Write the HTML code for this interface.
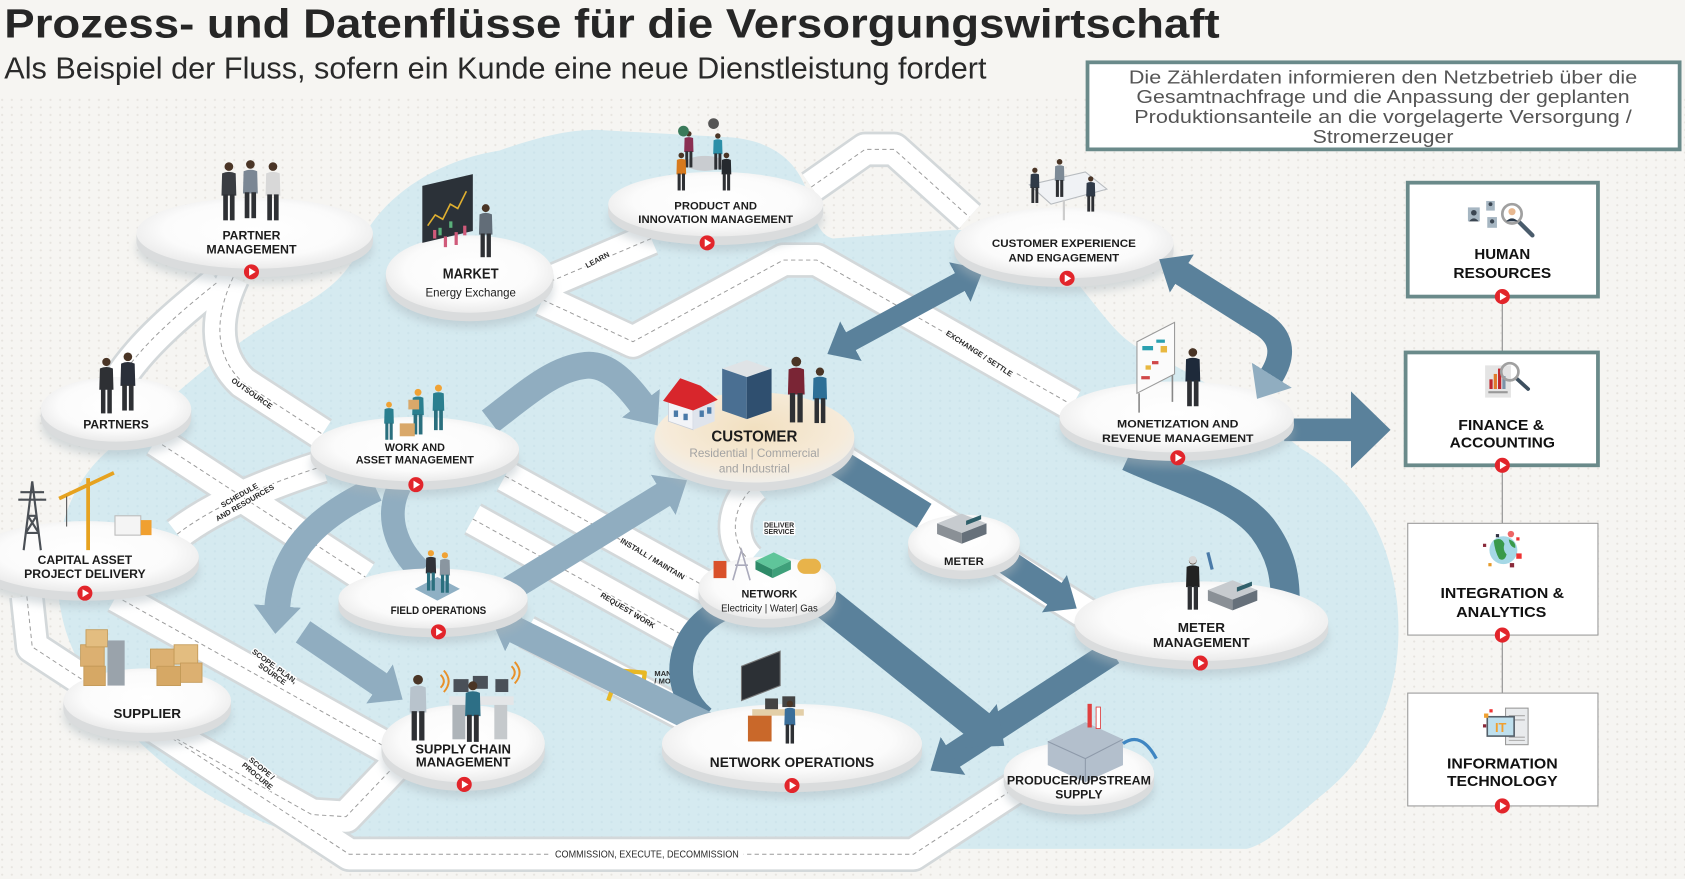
<!DOCTYPE html>
<html><head><meta charset="utf-8"><style>
html,body{margin:0;padding:0;background:#f6f5f2;}
svg{display:block;}
text{font-family:"Liberation Sans",Arial,sans-serif;}
.n{font-weight:700;fill:#1c1c1c;text-anchor:middle;}
.rl{font-weight:700;fill:#2a2a2a;font-size:7px;text-anchor:middle;paint-order:stroke;stroke:#fff;stroke-width:2.5px;}
.pb{font-weight:700;fill:#111;text-anchor:middle;font-size:14px;}
</style></head><body>
<svg xmlns="http://www.w3.org/2000/svg" width="1685" height="879" viewBox="0 0 1568 818" preserveAspectRatio="none">
<defs>
 <pattern id="dots" width="9" height="7" patternUnits="userSpaceOnUse"><circle cx="2" cy="2" r="1" fill="#e6e3de"/></pattern>
 <pattern id="dotsB" width="9" height="7" patternUnits="userSpaceOnUse"><circle cx="2" cy="2" r="1.1" fill="#c4dde6"/></pattern>
 <radialGradient id="gTop" cx="50%" cy="45%" r="55%"><stop offset="0" stop-color="#ffffff"/><stop offset=".7" stop-color="#fbfbfb"/><stop offset="1" stop-color="#ebebeb"/></radialGradient>
 <radialGradient id="gCust" cx="50%" cy="40%" r="60%"><stop offset="0" stop-color="#f2e0c0"/><stop offset=".75" stop-color="#f6ebda"/><stop offset="1" stop-color="#f0eeea"/></radialGradient>
 <filter id="blur" x="-30%" y="-60%" width="160%" height="220%"><feGaussianBlur stdDeviation="4"/></filter>
 <marker id="hD" viewBox="0 -22 26 44" refX="1" refY="0" markerWidth="26" markerHeight="44" markerUnits="userSpaceOnUse" orient="auto-start-reverse"><path d="M0,-21L25,0L0,21Z" fill="#5a819b"/></marker>
 <marker id="hL" viewBox="0 -23 27 46" refX="1" refY="0" markerWidth="27" markerHeight="46" markerUnits="userSpaceOnUse" orient="auto-start-reverse"><path d="M0,-22L26,0L0,22Z" fill="#90adc0"/></marker>
 <marker id="hDB" viewBox="0 -37 38 74" refX="1" refY="0" markerWidth="38" markerHeight="74" markerUnits="userSpaceOnUse" orient="auto"><path d="M0,-36L37,0L0,36Z" fill="#5a819b"/></marker>
 <marker id="hDP" viewBox="0 -27 31 54" refX="1" refY="0" markerWidth="31" markerHeight="54" markerUnits="userSpaceOnUse" orient="auto"><path d="M0,-26L30,0L0,26Z" fill="#5a819b"/></marker>
 <g id="pp"><circle cx="0" cy="3.5" r="3.5" fill="#4a3526"/><path d="M-5.5,9 Q0,6.5 5.5,9 L6,27 L-6,27Z"/><rect x="-4.6" y="26" width="3.8" height="21" fill="#2e3034"/><rect x="0.8" y="26" width="3.8" height="21" fill="#2e3034"/></g>
 <g id="pw"><circle cx="0" cy="3.5" r="3.6" fill="#f0a234"/><path d="M-5.5,9 Q0,6.5 5.5,9 L6,27 L-6,27Z"/><rect x="-4.6" y="26" width="3.8" height="21" fill="#2a6f7e"/><rect x="0.8" y="26" width="3.8" height="21" fill="#2a6f7e"/></g>
 <g id="play"><circle r="7" fill="#e2252b"/><path d="M-2.2,-3.7 L3.9,0 L-2.2,3.7Z" fill="#fff"/></g>
 <g id="dev"><path d="M0,9 L23,0 L46,9 L23,18Z" fill="#c7cbcf"/><path d="M0,9 L23,18 L23,28 L0,19Z" fill="#8a9096"/><path d="M23,18 L46,9 L46,19 L23,28Z" fill="#66707a"/><rect x="27" y="17" width="14" height="4" fill="#2f5f6a" transform="skewY(-21)"/></g>
 <path id="r1" d="M110,355 C130,322 168,290 203,262"/>
 <path id="r2" d="M217,258 C202,290 196,328 226,356 L300,404"/>
 <path id="r3" d="M512,262 L606,222"/>
 <path id="r4" d="M755,174 L805,139 L832,139 L902,202"/>
 <path id="r5" d="M505,279 L589,318 L729,242 L760,242 L998,377"/>
 <path id="r6" d="M165,497 C200,470 250,450 300,434"/>
 <path id="r7" d="M145,410 L340,537"/>
 <path id="r8" d="M108,555 L362,697"/>
 <path id="r9" d="M158,684 L290,758 L322,760 L366,714"/>
 <path id="r10" d="M25,555 L30,602 L325,795 L850,795 L948,731"/>
 <path id="r11" d="M470,443 L662,549"/>
 <path id="r12" d="M440,483 L646,597"/>
 <path id="r13" d="M778,425 L1012,572"/>
 <path id="r14" d="M703,452 C680,470 678,505 698,522"/>
 <path id="r15" d="M490,588 L650,672"/>
 <clipPath id="cm"><rect x="600" y="612" width="33" height="28"/></clipPath>
</defs>

<!-- background -->
<rect x="0" y="0" width="1568" height="818" fill="#f6f5f2"/>
<rect x="0" y="90" width="1568" height="728" fill="url(#dots)"/>

<!-- cloud -->
<path d="M57,570 C45,510 60,445 114,409 C150,380 210,320 270,290 C300,275 318,260 330,240 C345,190 400,150 465,140 C500,128 530,120 558,121 L682,128 C720,132 740,150 750,175 C758,200 760,218 775,222 L884,214 C930,212 975,235 1002,263 C1025,290 1040,315 1064,326 C1120,352 1170,385 1210,417 C1250,440 1290,480 1300,560 C1308,640 1280,700 1230,740 C1200,765 1180,785 1160,790 L340,790 C260,780 190,745 140,700 C100,665 65,615 57,570 Z" fill="#d5eaf0"/>
<path d="M57,570 C45,510 60,445 114,409 C150,380 210,320 270,290 C300,275 318,260 330,240 C345,190 400,150 465,140 C500,128 530,120 558,121 L682,128 C720,132 740,150 750,175 C758,200 760,218 775,222 L884,214 C930,212 975,235 1002,263 C1025,290 1040,315 1064,326 C1120,352 1170,385 1210,417 C1250,440 1290,480 1300,560 C1308,640 1280,700 1230,740 C1200,765 1180,785 1160,790 L340,790 C260,780 190,745 140,700 C100,665 65,615 57,570 Z" fill="url(#dotsB)" opacity=".5"/>

<!-- roads -->
<g fill="none" stroke-linejoin="round">
 <g stroke="#d3d8da" stroke-width="33">
  <use href="#r1"/><use href="#r2"/><use href="#r3"/><use href="#r4"/><use href="#r5"/><use href="#r6"/><use href="#r7"/><use href="#r8"/><use href="#r9"/><use href="#r10"/><use href="#r11"/><use href="#r12"/><use href="#r13"/><use href="#r14"/><use href="#r15"/>
 </g>
 <g stroke="#ffffff" stroke-width="28">
  <use href="#r1"/><use href="#r2"/><use href="#r3"/><use href="#r4"/><use href="#r5"/><use href="#r6"/><use href="#r7"/><use href="#r8"/><use href="#r9"/><use href="#r10"/><use href="#r11"/><use href="#r12"/><use href="#r13"/><use href="#r14"/><use href="#r15"/>
 </g>
 <g stroke="#9a9a9a" stroke-width="0.9" stroke-dasharray="4 3">
  <use href="#r1"/><use href="#r2"/><use href="#r3"/><use href="#r4"/><use href="#r5"/><use href="#r6"/><use href="#r7"/><use href="#r8"/><use href="#r9"/><use href="#r10"/><use href="#r11"/><use href="#r12"/><use href="#r14"/>
 </g>
</g>

<!-- road labels -->
<text class="rl" transform="translate(557,244) rotate(-28)">LEARN</text>
<text class="rl" transform="translate(233,368) rotate(35)">OUTSOURCE</text>
<text class="rl" transform="translate(224,463) rotate(-30)">SCHEDULE</text>
<text class="rl" transform="translate(229,470) rotate(-30)">AND RESOURCES</text>
<text class="rl" transform="translate(910,331) rotate(33)">EXCHANGE / SETTLE</text>
<text class="rl" transform="translate(606,522) rotate(31)">INSTALL / MAINTAIN</text>
<text class="rl" transform="translate(583,570) rotate(31)">REQUEST WORK</text>
<text class="rl" x="725" y="491" style="font-size:6.5px">DELIVER</text>
<text class="rl" x="725" y="497" style="font-size:6.5px">SERVICE</text>
<text class="rl" transform="translate(254,622) rotate(36)">SCOPE, PLAN,</text>
<text class="rl" transform="translate(252,629) rotate(36)">SOURCE</text>
<text class="rl" transform="translate(242,717) rotate(40)">SCOPE /</text>
<text class="rl" transform="translate(238,724) rotate(40)">PROCURE</text>
<g clip-path="url(#cm)"><text x="609" y="629" style="font-size:7px;font-weight:700;fill:#2a2a2a">MANAGE</text><text x="609" y="636" style="font-size:7px;font-weight:700;fill:#2a2a2a">/ MONITOR</text></g>
<rect x="512" y="789" width="180" height="12" fill="#fff"/>
<text x="602" y="798" text-anchor="middle" font-size="9" fill="#2a2a2a" textLength="171" lengthAdjust="spacingAndGlyphs">COMMISSION, EXECUTE, DECOMMISSION</text>

<!-- yellow robotic arm -->
<path d="M566,652 L576,624 L600,626 L597,650" fill="none" stroke="#e8b824" stroke-width="4" stroke-linejoin="round"/>

<!-- arrows under nodes -->
<g fill="none" stroke-linecap="butt">
 <path d="M791,318 L894,262" stroke="#5a819b" stroke-width="19" marker-start="url(#hD)" marker-end="url(#hD)"/>
 <path d="M1195,400 L1258,400" stroke="#5a819b" stroke-width="21" marker-end="url(#hDB)"/>
 <path d="M1050,425 C1100,448 1150,460 1175,492 C1192,515 1196,535 1196,560" stroke="#5a819b" stroke-width="27"/>
 <path d="M768,423 L860,480" stroke="#5a819b" stroke-width="26"/>
 <path d="M925,515 L982,553" stroke="#5a819b" stroke-width="24" marker-end="url(#hD)"/>
 <path d="M1035,607 L886,704" stroke="#5a819b" stroke-width="24" marker-end="url(#hD)"/>
 <path d="M770,562 L912,676" stroke="#5a819b" stroke-width="30" marker-end="url(#hDP)"/>
 <path d="M670,568 C628,590 622,640 655,668" stroke="#5a819b" stroke-width="22"/>
 <path d="M456,392 C490,366 515,343 545,340 C565,338 582,356 597,376" stroke="#90adc0" stroke-width="25" marker-end="url(#hL)"/>
 <path d="M470,551 L618,460" stroke="#90adc0" stroke-width="24" marker-end="url(#hL)"/>
 <path d="M372,452 C358,480 368,510 392,532" stroke="#90adc0" stroke-width="22"/>
 <path d="M350,455 C300,478 262,510 258,565" stroke="#90adc0" stroke-width="24" marker-end="url(#hL)"/>
 <path d="M282,588 L354,637" stroke="#90adc0" stroke-width="24" marker-end="url(#hL)"/>
 <path d="M662,677 L479,586" stroke="#90adc0" stroke-width="25" marker-end="url(#hL)"/>
</g>

<!-- nodes -->
<g>
 <ellipse cx="237" cy="231" rx="110" ry="33" fill="#a9b5bb" opacity=".45" filter="url(#blur)"/><ellipse cx="237" cy="225" rx="110" ry="33" fill="#dadcdd"/><rect x="127" y="217" width="220" height="8" fill="#dadcdd"/><ellipse cx="237" cy="217" rx="110" ry="33" fill="url(#gTop)"/>
 <ellipse cx="437" cy="269" rx="78" ry="36" fill="#a9b5bb" opacity=".45" filter="url(#blur)"/><ellipse cx="437" cy="263" rx="78" ry="36" fill="#dadcdd"/><rect x="359" y="255" width="156" height="8" fill="#dadcdd"/><ellipse cx="437" cy="255" rx="78" ry="36" fill="url(#gTop)"/>
 <ellipse cx="666" cy="204" rx="100" ry="30" fill="#a9b5bb" opacity=".45" filter="url(#blur)"/><ellipse cx="666" cy="198" rx="100" ry="30" fill="#dadcdd"/><rect x="566" y="190" width="200" height="8" fill="#dadcdd"/><ellipse cx="666" cy="190" rx="100" ry="30" fill="url(#gTop)"/>
 <ellipse cx="990" cy="240" rx="102" ry="33" fill="#a9b5bb" opacity=".45" filter="url(#blur)"/><ellipse cx="990" cy="234" rx="102" ry="33" fill="#dadcdd"/><rect x="888" y="226" width="204" height="8" fill="#dadcdd"/><ellipse cx="990" cy="226" rx="102" ry="33" fill="url(#gTop)"/>
 <ellipse cx="108" cy="395" rx="70" ry="30" fill="#a9b5bb" opacity=".45" filter="url(#blur)"/><ellipse cx="108" cy="389" rx="70" ry="30" fill="#dadcdd"/><rect x="38" y="381" width="140" height="8" fill="#dadcdd"/><ellipse cx="108" cy="381" rx="70" ry="30" fill="url(#gTop)"/>
 <ellipse cx="386" cy="432" rx="97" ry="30" fill="#a9b5bb" opacity=".45" filter="url(#blur)"/><ellipse cx="386" cy="426" rx="97" ry="30" fill="#dadcdd"/><rect x="289" y="418" width="194" height="8" fill="#dadcdd"/><ellipse cx="386" cy="418" rx="97" ry="30" fill="url(#gTop)"/>
 <ellipse cx="702" cy="421" rx="93" ry="42" fill="#a9b5bb" opacity=".45" filter="url(#blur)"/><ellipse cx="702" cy="415" rx="93" ry="42" fill="#dadcdd"/><rect x="609" y="407" width="186" height="8" fill="#dadcdd"/><ellipse cx="702" cy="407" rx="93" ry="42" fill="url(#gCust)"/>
 <ellipse cx="1095" cy="402" rx="109" ry="33" fill="#a9b5bb" opacity=".45" filter="url(#blur)"/><ellipse cx="1095" cy="396" rx="109" ry="33" fill="#dadcdd"/><rect x="986" y="388" width="218" height="8" fill="#dadcdd"/><ellipse cx="1095" cy="388" rx="109" ry="33" fill="url(#gTop)"/>
 <ellipse cx="80" cy="532" rx="105" ry="33" fill="#a9b5bb" opacity=".45" filter="url(#blur)"/><ellipse cx="80" cy="526" rx="105" ry="33" fill="#dadcdd"/><rect x="-25" y="518" width="210" height="8" fill="#dadcdd"/><ellipse cx="80" cy="518" rx="105" ry="33" fill="url(#gTop)"/>
 <ellipse cx="897" cy="519" rx="52" ry="26" fill="#a9b5bb" opacity=".45" filter="url(#blur)"/><ellipse cx="897" cy="513" rx="52" ry="26" fill="#dadcdd"/><rect x="845" y="505" width="104" height="8" fill="#dadcdd"/><ellipse cx="897" cy="505" rx="52" ry="26" fill="url(#gTop)"/>
 <ellipse cx="403" cy="571" rx="88" ry="28" fill="#a9b5bb" opacity=".45" filter="url(#blur)"/><ellipse cx="403" cy="565" rx="88" ry="28" fill="#dadcdd"/><rect x="315" y="557" width="176" height="8" fill="#dadcdd"/><ellipse cx="403" cy="557" rx="88" ry="28" fill="url(#gTop)"/>
 <ellipse cx="714" cy="561" rx="64" ry="29" fill="#a9b5bb" opacity=".45" filter="url(#blur)"/><ellipse cx="714" cy="555" rx="64" ry="29" fill="#dadcdd"/><rect x="650" y="547" width="128" height="8" fill="#dadcdd"/><ellipse cx="714" cy="547" rx="64" ry="29" fill="url(#gTop)"/>
 <ellipse cx="1118" cy="592" rx="118" ry="37" fill="#a9b5bb" opacity=".45" filter="url(#blur)"/><ellipse cx="1118" cy="586" rx="118" ry="37" fill="#dadcdd"/><rect x="1000" y="578" width="236" height="8" fill="#dadcdd"/><ellipse cx="1118" cy="578" rx="118" ry="37" fill="url(#gTop)"/>
 <ellipse cx="137" cy="666" rx="78" ry="30" fill="#a9b5bb" opacity=".45" filter="url(#blur)"/><ellipse cx="137" cy="660" rx="78" ry="30" fill="#dadcdd"/><rect x="59" y="652" width="156" height="8" fill="#dadcdd"/><ellipse cx="137" cy="652" rx="78" ry="30" fill="url(#gTop)"/>
 <ellipse cx="431" cy="706" rx="76" ry="36" fill="#a9b5bb" opacity=".45" filter="url(#blur)"/><ellipse cx="431" cy="700" rx="76" ry="36" fill="#dadcdd"/><rect x="355" y="692" width="152" height="8" fill="#dadcdd"/><ellipse cx="431" cy="692" rx="76" ry="36" fill="url(#gTop)"/>
 <ellipse cx="737" cy="706" rx="121" ry="37" fill="#a9b5bb" opacity=".45" filter="url(#blur)"/><ellipse cx="737" cy="700" rx="121" ry="37" fill="#dadcdd"/><rect x="616" y="692" width="242" height="8" fill="#dadcdd"/><ellipse cx="737" cy="692" rx="121" ry="37" fill="url(#gTop)"/>
 <ellipse cx="1004" cy="734" rx="70" ry="30" fill="#a9b5bb" opacity=".45" filter="url(#blur)"/><ellipse cx="1004" cy="728" rx="70" ry="30" fill="#dadcdd"/><rect x="934" y="720" width="140" height="8" fill="#dadcdd"/><ellipse cx="1004" cy="720" rx="70" ry="30" fill="url(#gTop)"/>
</g>

<!-- arrow drawn over nodes -->
<path d="M1099,254 L1172,300 Q1203,318 1183,350" fill="none" stroke="#5a819b" stroke-width="23" marker-start="url(#hD)" marker-end="url(#hL)"/>

<!-- figures / icons -->
<use href="#pp" transform="translate(213,151) scale(1.15)" fill="#3a3d42"/>
<use href="#pp" transform="translate(233,149) scale(1.15)" fill="#7b8794"/>
<use href="#pp" transform="translate(254,151) scale(1.15)" fill="#d8d8d8"/>
<path d="M393,173 L440,162 L440,215 L393,226Z" fill="#2b3138"/>
<path d="M398,210 L405,200 L412,204 L419,190 L426,194 L434,178" fill="none" stroke="#e0b030" stroke-width="1.5"/>
<g fill="#d05a7a"><rect x="403" y="214" width="3" height="8"/><rect x="413" y="220" width="3" height="10"/><rect x="423" y="216" width="3" height="12"/><rect x="431" y="210" width="3" height="9"/></g>
<g fill="#5ab07a"><rect x="408" y="212" width="3" height="7"/><rect x="418" y="206" width="3" height="6"/></g>
<use href="#pp" transform="translate(452,190) scale(1.05)" fill="#626d78"/>
<ellipse cx="656" cy="152" rx="18" ry="7" fill="#c9ccd0"/>
<use href="#pp" transform="translate(641,122) scale(.72)" fill="#8a2f52"/>
<use href="#pp" transform="translate(668,124) scale(.72)" fill="#2c8fa8"/>
<use href="#pp" transform="translate(634,142) scale(.75)" fill="#d77a1e"/>
<use href="#pp" transform="translate(676,142) scale(.75)" fill="#25292e"/>
<circle cx="636" cy="122" r="5" fill="#3a7a5a"/><circle cx="664" cy="115" r="5" fill="#555"/>
<path d="M958,172 L1010,160 L1030,176 L978,190Z" fill="#f0f2f5" stroke="#b8bcc0" stroke-width="1"/>
<path d="M990,186 L990,205" stroke="#ccc" stroke-width="2"/>
<use href="#pp" transform="translate(963,156) scale(.7)" fill="#2f3a48"/>
<use href="#pp" transform="translate(986,148) scale(.75)" fill="#7d8a96"/>
<use href="#pp" transform="translate(1015,164) scale(.7)" fill="#2f3a48"/>
<path d="M1058,318 L1093,300 L1093,348 L1058,366Z" fill="#fbfbfb" stroke="#9a9a9a" stroke-width="1"/>
<g fill="#2aa0b0"><rect x="1063" y="322" width="10" height="4"/><rect x="1076" y="316" width="8" height="3"/></g>
<g fill="#e8b840"><rect x="1080" y="322" width="6" height="6"/><rect x="1066" y="340" width="5" height="4"/></g>
<g fill="#d04848"><rect x="1072" y="336" width="6" height="3"/><rect x="1062" y="350" width="8" height="3"/></g>
<path d="M1060,366 L1060,384 M1091,349 L1091,374" stroke="#888" stroke-width="1.5"/>
<use href="#pp" transform="translate(1110,324) scale(1.15)" fill="#1e2a3a"/>
<use href="#pw" transform="translate(362,374) scale(.75)" fill="#2a7f8f"/>
<use href="#pw" transform="translate(389,362) scale(.9)" fill="#2a7f8f"/>
<use href="#pw" transform="translate(408,358) scale(.9)" fill="#2a7f8f"/>
<rect x="372" y="394" width="14" height="12" fill="#d9a86a"/><rect x="380" y="372" width="10" height="9" fill="#d9a86a"/>
<path d="M622,372 L645,380 L645,400 L622,392Z" fill="#f2f4f8" stroke="#c8ced8" stroke-width=".8"/>
<path d="M645,380 L665,372 L665,392 L645,400Z" fill="#dfe4ec"/>
<path d="M617,373 L633,352 L652,359 L668,372 L645,382Z" fill="#d8262c"/>
<g fill="#4a7aa8"><rect x="627" y="382" width="4" height="6"/><rect x="636" y="385" width="4" height="6"/><rect x="651" y="382" width="4" height="6"/><rect x="658" y="379" width="4" height="6"/></g>
<path d="M672,343 L695,335 L718,343 L695,351Z" fill="#dfe3e6"/>
<path d="M672,343 L695,351 L695,390 L672,382Z" fill="#4a6f92"/>
<path d="M695,351 L718,343 L718,382 L695,390Z" fill="#2f4f6f"/>
<use href="#pp" transform="translate(741,332) scale(1.3)" fill="#7a2535"/>
<use href="#pp" transform="translate(763,342) scale(1.1)" fill="#2d6f96"/>
<use href="#pp" transform="translate(99,333) scale(1.1)" fill="#2e3034"/>
<use href="#pp" transform="translate(119,328) scale(1.15)" fill="#2a2f3a"/>
<path d="M22,512 L30,448 L38,512 M24,496 L36,496 M26,480 L34,480 M17,465 L43,465 M19,458 L41,458 M24,496 L34,480 M36,496 L26,480" stroke="#4a4f55" stroke-width="2" fill="none"/>
<path d="M82,445 L82,512 M55,464 L106,440" stroke="#e6a21f" stroke-width="3.5" fill="none"/>
<path d="M62,462 L62,490" stroke="#555" stroke-width="1"/>
<rect x="107" y="480" width="24" height="18" fill="#f4f4f4" stroke="#bbb" stroke-width="1"/>
<rect x="131" y="484" width="10" height="14" fill="#f0a030"/>
<path d="M386,548 L407,537 L428,548 L407,559Z" fill="#8fb0c4"/>
<use href="#pw" transform="translate(401,512) scale(.8)" fill="#2f3238"/>
<use href="#pw" transform="translate(414,514) scale(.8)" fill="#8a96a0"/>
<rect x="664" y="522" width="12" height="16" fill="#d9502a"/>
<path d="M682,540 L690,512 L698,540 M684,526 L696,526" stroke="#aab" stroke-width="1.5" fill="none"/>
<path d="M703,522 L720,514 L736,522 L719,530Z" fill="#5fc59a"/><path d="M703,522 L719,530 L719,538 L703,530Z" fill="#2e8a68"/><path d="M719,530 L736,522 L736,530 L719,538Z" fill="#3ea07a"/>
<rect x="742" y="520" width="22" height="14" rx="7" fill="#e8b34a"/>
<use href="#dev" transform="translate(872,478)"/>
<use href="#pp" transform="translate(1110,518) scale(1.05)" fill="#222"/>
<circle cx="1110" cy="521" r="3.6" fill="#d8d8d8"/>
<path d="M1124,514 L1128,530" stroke="#4a7aa8" stroke-width="3"/>
<use href="#dev" transform="translate(1124,540)"/>
<rect x="75" y="600" width="22" height="20" fill="#dcb071" stroke="#c49a58" stroke-width=".8"/>
<rect x="80" y="586" width="20" height="16" fill="#e3bd80" stroke="#c49a58" stroke-width=".8"/>
<rect x="78" y="620" width="20" height="18" fill="#d6a865" stroke="#c49a58" stroke-width=".8"/>
<rect x="100" y="596" width="16" height="42" fill="#9aa3ab"/>
<rect x="140" y="604" width="22" height="18" fill="#dcb071" stroke="#c49a58" stroke-width=".8"/>
<rect x="162" y="600" width="22" height="18" fill="#e3bd80" stroke="#c49a58" stroke-width=".8"/>
<rect x="146" y="620" width="22" height="18" fill="#d6a865" stroke="#c49a58" stroke-width=".8"/>
<rect x="168" y="617" width="20" height="18" fill="#dcb071" stroke="#c49a58" stroke-width=".8"/>
<use href="#pp" transform="translate(389,628) scale(1.3)" fill="#b8c3cc"/>
<rect x="418" y="648" width="60" height="8" fill="#e4e6e8"/>
<rect x="421" y="656" width="12" height="32" fill="#aeb4b9"/><rect x="460" y="656" width="12" height="32" fill="#c5c9cc"/>
<rect x="422" y="632" width="14" height="12" fill="#4a5058"/><rect x="440" y="629" width="14" height="12" fill="#4a5058"/><rect x="461" y="632" width="12" height="12" fill="#4a5058"/>
<use href="#pp" transform="translate(440,634) scale(1.2)" fill="#2d6f86"/>
<path d="M410,628 Q416,634 410,640 M413,624 Q422,634 413,644" stroke="#e8912a" stroke-width="1.8" fill="none"/>
<path d="M476,620 Q482,626 476,632 M479,616 Q488,626 479,636" stroke="#e8912a" stroke-width="1.8" fill="none"/>
<path d="M690,620 L726,606 L726,638 L690,652Z" fill="#2c3035" stroke="#777" stroke-width="1"/>
<rect x="700" y="660" width="48" height="6" fill="#e3cfa8"/>
<rect x="696" y="666" width="22" height="24" fill="#c9682a"/>
<rect x="712" y="650" width="12" height="10" fill="#444"/><rect x="728" y="648" width="12" height="10" fill="#444"/>
<use href="#pp" transform="translate(735,652) scale(.85)" fill="#3b6f9a"/>
<path d="M975,690 L1010,672 L1045,688 L1045,712 L1010,728 L975,712Z" fill="#b3bfcc"/>
<path d="M975,690 L1010,706 L1045,688 M1010,706 L1010,728" stroke="#8e9aaa" stroke-width="1" fill="none"/>
<rect x="1012" y="655" width="4" height="22" fill="#e04040"/><rect x="1020" y="658" width="4" height="20" fill="#fff" stroke="#e04040" stroke-width=".8"/>
<path d="M1045,692 Q1062,680 1076,706" stroke="#3f86c2" stroke-width="3" fill="none"/>

<!-- play buttons -->
<use href="#play" x="234" y="253"/>
<use href="#play" x="658" y="226"/>
<use href="#play" x="993" y="259"/>
<use href="#play" x="387" y="451"/>
<use href="#play" x="1096" y="426"/>
<use href="#play" x="79" y="552"/>
<use href="#play" x="408" y="588"/>
<use href="#play" x="1117" y="617"/>
<use href="#play" x="432" y="730"/>
<use href="#play" x="737" y="731"/>

<!-- node labels -->
<g class="n">
 <text x="234" y="223" font-size="11" textLength="54" lengthAdjust="spacingAndGlyphs">PARTNER</text>
 <text x="234" y="236" font-size="11" textLength="84" lengthAdjust="spacingAndGlyphs">MANAGEMENT</text>
 <text x="438" y="259" font-size="13.5" textLength="52" lengthAdjust="spacingAndGlyphs">MARKET</text>
 <text x="666" y="195" font-size="10.5" textLength="77" lengthAdjust="spacingAndGlyphs">PRODUCT AND</text>
 <text x="666" y="207.5" font-size="10.5" textLength="144" lengthAdjust="spacingAndGlyphs">INNOVATION MANAGEMENT</text>
 <text x="990" y="230" font-size="10.5" textLength="134" lengthAdjust="spacingAndGlyphs">CUSTOMER EXPERIENCE</text>
 <text x="990" y="243.5" font-size="10.5" textLength="103" lengthAdjust="spacingAndGlyphs">AND ENGAGEMENT</text>
 <text x="108" y="399" font-size="11.5" textLength="61" lengthAdjust="spacingAndGlyphs">PARTNERS</text>
 <text x="386" y="419.5" font-size="10" textLength="56" lengthAdjust="spacingAndGlyphs">WORK AND</text>
 <text x="386" y="431.5" font-size="10" textLength="110" lengthAdjust="spacingAndGlyphs">ASSET MANAGEMENT</text>
 <text x="702" y="411" font-size="15" textLength="80" lengthAdjust="spacingAndGlyphs">CUSTOMER</text>
 <text x="1096" y="398" font-size="10" textLength="113" lengthAdjust="spacingAndGlyphs">MONETIZATION AND</text>
 <text x="1096" y="411.5" font-size="10" textLength="141" lengthAdjust="spacingAndGlyphs">REVENUE MANAGEMENT</text>
 <text x="79" y="525" font-size="11" textLength="88" lengthAdjust="spacingAndGlyphs">CAPITAL ASSET</text>
 <text x="79" y="538" font-size="11" textLength="113" lengthAdjust="spacingAndGlyphs">PROJECT DELIVERY</text>
 <text x="897" y="526" font-size="10.5" textLength="37" lengthAdjust="spacingAndGlyphs">METER</text>
 <text x="408" y="571.5" font-size="10" textLength="89" lengthAdjust="spacingAndGlyphs">FIELD OPERATIONS</text>
 <text x="716" y="556" font-size="10.5" textLength="52" lengthAdjust="spacingAndGlyphs">NETWORK</text>
 <text x="1118" y="588" font-size="12" textLength="44" lengthAdjust="spacingAndGlyphs">METER</text>
 <text x="1118" y="602" font-size="12" textLength="90" lengthAdjust="spacingAndGlyphs">MANAGEMENT</text>
 <text x="137" y="668" font-size="12" textLength="63" lengthAdjust="spacingAndGlyphs">SUPPLIER</text>
 <text x="431" y="701" font-size="12" textLength="89" lengthAdjust="spacingAndGlyphs">SUPPLY CHAIN</text>
 <text x="431" y="713.5" font-size="12" textLength="88" lengthAdjust="spacingAndGlyphs">MANAGEMENT</text>
 <text x="737" y="714" font-size="13" textLength="153" lengthAdjust="spacingAndGlyphs">NETWORK OPERATIONS</text>
 <text x="1004" y="730" font-size="11.5" textLength="134" lengthAdjust="spacingAndGlyphs">PRODUCER/UPSTREAM</text>
 <text x="1004" y="743" font-size="11.5" textLength="44" lengthAdjust="spacingAndGlyphs">SUPPLY</text>
</g>
<text x="438" y="276" font-size="11" fill="#1c1c1c" text-anchor="middle" textLength="84" lengthAdjust="spacingAndGlyphs">Energy Exchange</text>
<text x="702" y="425.5" font-size="11" fill="#a3a3a3" text-anchor="middle" textLength="121" lengthAdjust="spacingAndGlyphs">Residential | Commercial</text>
<text x="702" y="439.5" font-size="11" fill="#a3a3a3" text-anchor="middle" textLength="66" lengthAdjust="spacingAndGlyphs">and Industrial</text>
<text x="716" y="569" font-size="9.5" fill="#1c1c1c" text-anchor="middle" textLength="90" lengthAdjust="spacingAndGlyphs">Electricity | Water| Gas</text>

<!-- right panel -->
<line x1="1398" y1="276" x2="1398" y2="750" stroke="#9a9a9a" stroke-width="1.2"/>
<rect x="1310" y="170" width="177" height="106" fill="#fff" stroke="#6a8a8a" stroke-width="3.5"/>
<rect x="1308" y="328" width="179" height="105" fill="#fff" stroke="#6a8a8a" stroke-width="3.5"/>
<rect x="1310" y="487" width="177" height="104" fill="#fff" stroke="#9a9a9a" stroke-width="1"/>
<rect x="1310" y="645" width="177" height="105" fill="#fff" stroke="#9a9a9a" stroke-width="1"/>
<rect x="1366" y="193" width="11" height="13" fill="#a6b6c2"/><circle cx="1371.5" cy="198" r="2.6" fill="#3b4652"/><path d="M1367,206 Q1371.5,200.5 1376,206Z" fill="#3b4652"/>
<rect x="1383" y="187" width="8" height="9" fill="#a6b6c2"/><circle cx="1387" cy="190" r="1.8" fill="#3b4652"/>
<rect x="1384" y="202" width="9" height="10" fill="#a6b6c2"/><circle cx="1388.5" cy="206" r="2" fill="#3b4652"/>
<line x1="1413" y1="206" x2="1426" y2="219" stroke="#4a5c6c" stroke-width="4" stroke-linecap="round"/>
<circle cx="1407" cy="199" r="9" fill="#fff" stroke="#a0a0a0" stroke-width="2.5"/>
<circle cx="1407" cy="197" r="3.3" fill="#e8b890"/><path d="M1401.5,206 Q1407,200.5 1412.5,206Z" fill="#2b3a4a"/>
<rect x="1382" y="340" width="24" height="30" fill="#e4e4e4"/>
<rect x="1386" y="353" width="3" height="9" fill="#c0282d"/><rect x="1390" y="348" width="3" height="14" fill="#e07a2a"/><rect x="1394" y="343" width="3" height="19" fill="#c0282d"/><rect x="1398" y="350" width="3" height="12" fill="#7b93a8"/>
<rect x="1385" y="364" width="18" height="2" fill="#999"/>
<line x1="1411" y1="352" x2="1422" y2="362" stroke="#3d4f5f" stroke-width="3.5" stroke-linecap="round"/>
<circle cx="1405" cy="346" r="8" fill="none" stroke="#a0a0a0" stroke-width="2.5"/>
<circle cx="1399" cy="512" r="13" fill="#a5d8e6"/>
<path d="M1390,503 Q1397,499 1400,506 Q1398,512 1402,516 Q1400,523 1395,520 Q1391,513 1390,503Z" fill="#3a9a4a"/>
<path d="M1404,502 Q1411,504 1410,510 Q1405,509 1404,502Z" fill="#3a9a4a"/>
<rect x="1380" y="506" width="3" height="3" fill="#8a2a3a"/><rect x="1411" y="500" width="3" height="3" fill="#e33"/><rect x="1411" y="515" width="5" height="5" fill="#e33"/><rect x="1405" y="524" width="4" height="4" fill="#8a2a3a"/><rect x="1385" y="524" width="3" height="3" fill="#e69a2a"/><rect x="1392" y="497" width="3" height="3" fill="#334"/>
<circle cx="1406" cy="497" r="3" fill="#e66"/>
<rect x="1401" y="659" width="21" height="34" fill="#e9ebed" stroke="#999" stroke-width="1"/>
<path d="M1404,666 H1419 M1404,670 H1419 M1404,686 H1419 M1404,689 H1419" stroke="#aaa" stroke-width="1"/>
<rect x="1384" y="667" width="25" height="18" fill="#bfe0ee" stroke="#55606a" stroke-width="1.5"/>
<text x="1396.5" y="681" font-size="12" font-weight="700" fill="#f0a030" text-anchor="middle">IT</text>
<rect x="1381" y="664" width="4" height="4" fill="#f0a030"/><rect x="1386" y="660" width="3" height="3" fill="#e33"/><rect x="1380" y="674" width="3" height="3" fill="#8a2a3a"/>
<text class="pb" x="1398" y="241" textLength="52" lengthAdjust="spacingAndGlyphs">HUMAN</text>
<text class="pb" x="1398" y="258.5" textLength="91" lengthAdjust="spacingAndGlyphs">RESOURCES</text>
<text class="pb" x="1397" y="400" textLength="80" lengthAdjust="spacingAndGlyphs">FINANCE &amp;</text>
<text class="pb" x="1398" y="416.5" textLength="98" lengthAdjust="spacingAndGlyphs">ACCOUNTING</text>
<text class="pb" x="1398" y="556.5" textLength="115" lengthAdjust="spacingAndGlyphs">INTEGRATION &amp;</text>
<text class="pb" x="1397" y="574" textLength="84" lengthAdjust="spacingAndGlyphs">ANALYTICS</text>
<text class="pb" x="1398" y="715" textLength="103" lengthAdjust="spacingAndGlyphs">INFORMATION</text>
<text class="pb" x="1398" y="731.5" textLength="103" lengthAdjust="spacingAndGlyphs">TECHNOLOGY</text>
<use href="#play" x="1398" y="276"/>
<use href="#play" x="1398" y="433"/>
<use href="#play" x="1398" y="591"/>
<use href="#play" x="1398" y="750"/>

<!-- top-right note -->
<rect x="1012" y="58" width="551" height="81" fill="#fff" stroke="#6a8a8a" stroke-width="3.5"/>
<g font-size="17" fill="#555" text-anchor="middle">
 <text x="1287" y="77.5" textLength="473" lengthAdjust="spacingAndGlyphs">Die Zählerdaten informieren den Netzbetrieb über die</text>
 <text x="1287" y="96" textLength="459" lengthAdjust="spacingAndGlyphs">Gesamtnachfrage und die Anpassung der geplanten</text>
 <text x="1287" y="114.5" textLength="463" lengthAdjust="spacingAndGlyphs">Produktionsanteile an die vorgelagerte Versorgung /</text>
 <text x="1287" y="133" textLength="131" lengthAdjust="spacingAndGlyphs">Stromerzeuger</text>
</g>

<!-- title -->
<text x="4" y="35" font-size="38" font-weight="700" fill="#262626" textLength="1131" lengthAdjust="spacingAndGlyphs">Prozess- und Datenflüsse für die Versorgungswirtschaft</text>
<text x="4" y="73" font-size="28" fill="#2a2a2a" textLength="914" lengthAdjust="spacingAndGlyphs">Als Beispiel der Fluss, sofern ein Kunde eine neue Dienstleistung fordert</text>
</svg>
</body></html>
